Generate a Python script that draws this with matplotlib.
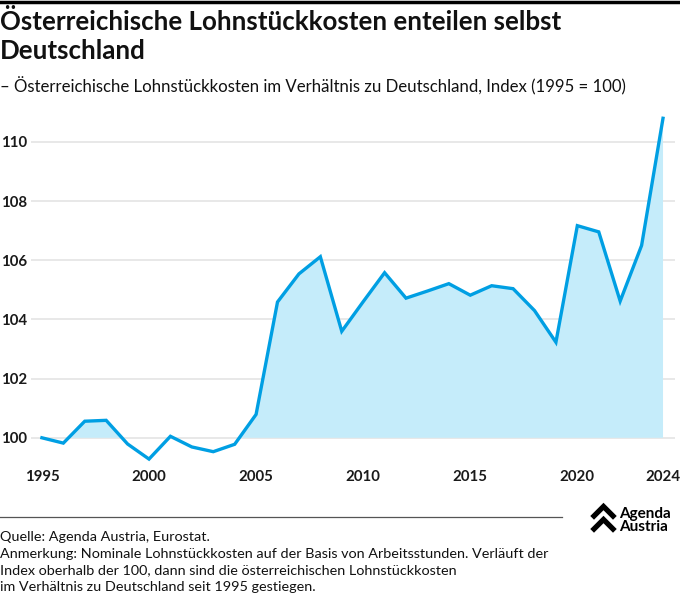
import matplotlib.pyplot as plt
import numpy as np
from matplotlib.lines import Line2D

plt.rcParams['font.family'] = ['Lato', 'DejaVu Sans']

years = np.arange(1995, 2025)
index = [100.0, 99.82, 100.56, 100.59, 99.79, 99.28, 100.05, 99.69, 99.53, 99.78,
         100.79, 104.59, 105.54, 106.12, 103.6, 104.6, 105.58, 104.72, 104.96, 105.21,
         104.82, 105.14, 105.04, 104.3, 103.23, 107.17, 106.96, 104.62, 106.5, 110.8]
xticks = [1995, 2000, 2005, 2010, 2015, 2020, 2024]
yticks = [100, 102, 104, 106, 108, 110]

W, H = 680, 593
blue = '#009fe3'
fill = '#c5ecfa'

fig = plt.figure(figsize=(W / 100, H / 100), dpi=100)

def fy(y):
    return 1 - y / H

ax = fig.add_axes([31 / W, fy(465), (675 - 31) / W, (465 - 110) / H])
idx = np.array(index)
ax.fill_between(years, idx, 100, where=idx >= 100, interpolate=True,
                color=fill, linewidth=0, zorder=1)
ax.plot(years, idx, color=blue, linewidth=2.4, zorder=3, solid_joinstyle='miter')
ax.set_xlim(1994.49, 2024.56)
ax.set_ylim(99.08, 111.08)
ax.set_yticks(yticks)
ax.set_xticks(xticks)
ax.set_yticklabels([str(t) for t in yticks])
ax.grid(axis='y', color='#e2e2e2', linewidth=1.1, zorder=0)
ax.set_axisbelow(True)
for s in ax.spines.values():
    s.set_visible(False)
ax.tick_params(length=0, labelsize=10.8, colors='#1a1a1a')
ax.tick_params(axis='x', pad=3.5)
ax.tick_params(axis='y', pad=3)
for lab in ax.get_xticklabels() + ax.get_yticklabels():
    lab.set_fontweight('bold')

# top bar
fig.add_artist(Line2D([0, 1], [fy(1.5), fy(1.5)], color='black', linewidth=2.5))

fig.text(0, fy(22), 'Österreichische Lohnstückkosten enteilen selbst', fontsize=18.6,
         fontweight='bold', va='center', color='#111111')
fig.text(0, fy(51), 'Deutschland', fontsize=18.6, fontweight='bold', va='center',
         color='#111111')
fig.text(0, fy(86), '– Österreichische Lohnstückkosten im Verhältnis zu Deutschland, Index (1995 = 100)',
         fontsize=12.1, va='center', color='#111111')

# separator
fig.add_artist(Line2D([0, 562 / W], [fy(517), fy(517)], color='#555555', linewidth=0.9))

notes = ['Quelle: Agenda Austria, Eurostat.',
         'Anmerkung: Nominale Lohnstückkosten auf der Basis von Arbeitsstunden. Verläuft der',
         'Index oberhalb der 100, dann sind die österreichischen Lohnstückkosten',
         'im Verhältnis zu Deutschland seit 1995 gestiegen.']
for i, t in enumerate(notes):
    fig.text(0, fy(537 + i * 16.7), t, fontsize=10.4, va='center', color='#111111')

# logo
for y0 in (510, 523):
    xs = np.array([594, 603.5, 613]) / W
    ys = [fy(y0 + 6), fy(y0 - 3.5), fy(y0 + 6)]
    fig.add_artist(Line2D(xs, ys, color='black', linewidth=3.8, solid_joinstyle='miter'))
fig.text(619 / W, fy(518), 'Agenda', fontsize=11, fontweight='bold', va='baseline')
fig.text(619 / W, fy(531), 'Austria', fontsize=11, fontweight='bold', va='baseline')

fig.savefig('out.png', dpi=100)
